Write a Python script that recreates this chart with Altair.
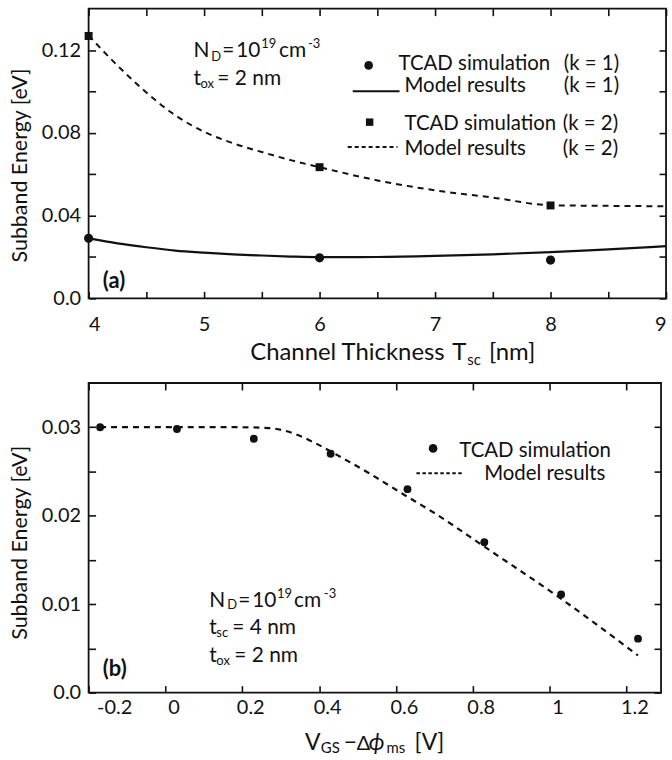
import altair as alt
import pandas as pd

# ---------------- data: panel (a) ----------------
T_TCAD = [4, 6, 8]
E1_TCAD = [0.0290, 0.0196, 0.0185]
E2_TCAD = [0.1268, 0.0634, 0.0449]
T_MODEL = [4.0, 4.25, 4.5, 4.75, 5.0, 5.25, 5.5, 5.75, 6.0, 6.5, 7.0, 7.5, 8.0, 8.5, 9.0]
E1_MODEL = [0.0290, 0.0266, 0.0247, 0.0231, 0.0221, 0.0213, 0.0207, 0.0202, 0.0199,
            0.0200, 0.0205, 0.0213, 0.0223, 0.0237, 0.0252]
E2_MODEL = [0.1270, 0.1125, 0.0995, 0.0885, 0.0805, 0.0750, 0.0707, 0.0668, 0.0634,
            0.0570, 0.0522, 0.0487, 0.0450, 0.0447, 0.0445]
XT_A = [4, 4.5, 5, 5.5, 6, 6.5, 7, 7.5, 8, 8.5, 9]
YT_A = [0, 0.02, 0.04, 0.06, 0.08, 0.10, 0.12]

# ---------------- data: panel (b) ----------------
V_TCAD = [-0.17, 0.03, 0.23, 0.43, 0.63, 0.83, 1.03, 1.23]
E_TCAD = [0.0300, 0.0298, 0.0287, 0.0270, 0.0230, 0.0170, 0.0111, 0.0061]
V_MODEL = [-0.17, 0.0, 0.19, 0.27, 0.34, 0.39, 0.445, 0.53, 0.62, 0.70, 0.83, 1.03, 1.23]
E_MODEL = [0.0300, 0.0300, 0.0300, 0.0299, 0.0292, 0.0282, 0.0269, 0.0248, 0.0224,
           0.0203, 0.0165, 0.0106, 0.0042]
XT_B = [-0.2, 0, 0.2, 0.4, 0.6, 0.8, 1.0, 1.2]
YT_B = [0, 0.005, 0.01, 0.015, 0.02, 0.025, 0.03]

dfA_tcad = pd.DataFrame({"T": T_TCAD, "E1": E1_TCAD, "E2": E2_TCAD})
dfA_model = pd.DataFrame({"T": T_MODEL, "E1": E1_MODEL, "E2": E2_MODEL})
dfB_tcad = pd.DataFrame({"V": V_TCAD, "E": E_TCAD})
dfB_model = pd.DataFrame({"V": V_MODEL, "E": E_MODEL})
ONE = pd.DataFrame({"k": [0]})

FONT = "Lato, 'Open Sans', 'DejaVu Sans', sans-serif"
INK = "#111111"

# page layout (plot-area origins)
OA = (90.7, 5.0)
WA, HA = 580, 291
OB = (90.7, 381.0)
WB, HB = 575, 311


def txt(s, px, py, origin, size=21, weight="normal", style="normal"):
    ox, oy = origin
    return alt.Chart(ONE).mark_text(
        text=s, align="left", baseline="alphabetic", font=FONT, fontSize=size,
        fontWeight=weight, fontStyle=style, color=INK
    ).encode(x=alt.value(px - ox), y=alt.value(py - oy))


def rule(x1, x2, py, origin, dash=None, width=2):
    ox, oy = origin
    kw = dict(color=INK, strokeWidth=width)
    if dash:
        kw["strokeDash"] = dash
    return alt.Chart(ONE).mark_rule(**kw).encode(
        x=alt.value(x1 - ox), x2=alt.value(x2 - ox), y=alt.value(py - oy))


def marker(kind, px, py, origin, size):
    ox, oy = origin
    m = alt.Chart(ONE)
    m = m.mark_circle(size=size, color=INK, opacity=1) if kind == "circle" else \
        m.mark_square(size=size, color=INK, opacity=1)
    return m.encode(x=alt.value(px - ox), y=alt.value(py - oy))


def ax(orient, values, show, expr=None, pad=8, title=None, flush=None, loff=None, ty=None):
    kw = dict(orient=orient, values=values, tickSize=7, offset=-7, domain=False,
              grid=False, tickColor=INK, tickWidth=1.6, labels=show, title=title)
    if show:
        kw.update(labelFont=FONT, labelFontSize=20, labelColor=INK, labelPadding=pad)
        if expr:
            kw["labelExpr"] = expr
        if flush is not None:
            kw["labelFlush"] = flush
        if loff is not None:
            kw["labelOffset"] = loff
    if title:
        kw.update(titleFont=FONT, titleFontSize=21.5, titleFontWeight="normal",
                  titleColor=INK, titlePadding=10)
        if ty is not None:
            kw["titleY"] = ty
    return alt.Axis(**kw)


# ================= panel (a) =================
xsA = alt.Scale(domain=[4, 9], nice=False, zero=False)
ysA = alt.Scale(domain=[0, 0.14], nice=False, zero=True)
exA_x = "datum.value % 1 == 0 ? format(datum.value, 'd') : ''"
exA_y = ("datum.value == 0 ? '0.0' : (abs(datum.value / 0.04 - round(datum.value / 0.04)) < 0.001"
         " ? format(datum.value, '.2f') : '')")

lineA2 = alt.Chart(dfA_model).mark_line(
    color=INK, strokeWidth=2, strokeDash=[6, 5], interpolate="monotone"
).encode(x=alt.X("T:Q", scale=xsA, axis=None), y=alt.Y("E2:Q", scale=ysA, axis=None))
lineA1 = alt.Chart(dfA_model).mark_line(
    color=INK, strokeWidth=2.2, interpolate="monotone"
).encode(x=alt.X("T:Q", scale=xsA, axis=None), y=alt.Y("E1:Q", scale=ysA, axis=None))
sqA = alt.Chart(dfA_tcad).mark_square(size=64, color=INK, opacity=1).encode(
    x=alt.X("T:Q", scale=xsA, axis=None), y=alt.Y("E2:Q", scale=ysA, axis=None))
ciA = alt.Chart(dfA_tcad).mark_circle(size=85, color=INK, opacity=1).encode(
    x=alt.X("T:Q", scale=xsA, axis=ax("bottom", XT_A, True, exA_x, pad=16, flush=True)),
    y=alt.Y("E1:Q", scale=ysA,
            axis=ax("left", YT_A, True, exA_y, pad=8, title="Subband Energy [eV]", ty=157)))
mirA = alt.Chart(dfA_tcad).mark_point(opacity=0).encode(
    x=alt.X("T:Q", scale=xsA, axis=ax("top", XT_A, False)),
    y=alt.Y("E1:Q", scale=ysA, axis=ax("right", YT_A, False)))

annA = [
    txt("N", 196, 54, OA), txt("D", 214, 57.5, OA, 13), txt("=", 225, 54, OA),
    txt("10", 239, 54, OA), txt("19", 264, 45, OA, 13), txt("cm", 282, 54, OA),
    txt("-3", 311, 45, OA, 13),
    txt("t", 196, 81.5, OA), txt("ox", 203, 85, OA, 13), txt("= 2 nm", 220, 81.5, OA),
    txt("(a)", 105, 286, OA, 22, weight="bold"),
    # legend
    marker("circle", 372, 62, OA, 75),
    txt("TCAD simulation", 402, 67, OA, 20.5), txt("(k = 1)", 568, 67, OA, 20.5),
    rule(356, 403, 88, OA, width=2),
    txt("Model results", 408, 89, OA, 20.5), txt("(k = 1)", 568, 89, OA, 20.5),
    marker("square", 373, 119, OA, 56),
    txt("TCAD simulation", 408, 126.5, OA, 20.5), txt("(k = 2)", 567, 126.5, OA, 20.5),
    rule(351, 401, 144, OA, dash=[4, 3], width=2),
    txt("Model results", 408, 152, OA, 20.5), txt("(k = 2)", 567, 152, OA, 20.5),
    # x-axis title
    txt("Channel Thickness", 253, 358, OA, 24), txt("T", 456, 358, OA, 24),
    txt("sc", 471, 363, OA, 15), txt("[nm]", 493, 358, OA, 24),
]

panelA = alt.layer(lineA2, lineA1, sqA, ciA, mirA, *annA).properties(width=WA, height=HA)

# ================= panel (b) =================
xsB = alt.Scale(domain=[-0.2, 1.29], nice=False, zero=False)
ysB = alt.Scale(domain=[0, 0.035], nice=False, zero=True)
exB_x = "datum.value < 0 ? '-' + format(-datum.value, '~g') : format(datum.value, '~g')"
exB_y = ("datum.value == 0 ? '0.0' : (abs(datum.value / 0.01 - round(datum.value / 0.01)) < 0.001"
         " ? format(datum.value, '.2f') : '')")

lineB = alt.Chart(dfB_model).mark_line(
    color=INK, strokeWidth=2.2, strokeDash=[6, 5], interpolate="monotone"
).encode(x=alt.X("V:Q", scale=xsB, axis=None), y=alt.Y("E:Q", scale=ysB, axis=None))
ciB = alt.Chart(dfB_tcad).mark_circle(size=62, color=INK, opacity=1).encode(
    x=alt.X("V:Q", scale=xsB, axis=ax("bottom", XT_B, True, exB_x, pad=5, loff=8)),
    y=alt.Y("E:Q", scale=ysB,
            axis=ax("left", YT_B, True, exB_y, pad=8, title="Subband Energy [eV]", ty=160)))
mirB = alt.Chart(dfB_tcad).mark_point(opacity=0).encode(
    x=alt.X("V:Q", scale=xsB, axis=ax("top", XT_B, False)),
    y=alt.Y("E:Q", scale=ysB, axis=ax("right", YT_B, False)))

annB = [
    txt("N", 212, 605.7, OB), txt("D", 230, 608.5, OB, 13), txt("=", 241, 605.7, OB),
    txt("10", 255, 605.7, OB), txt("19", 280, 597, OB, 13), txt("cm", 297, 605.7, OB),
    txt("-3", 327, 597, OB, 13),
    txt("t", 212, 633, OB), txt("sc", 219, 636, OB, 13), txt("= 4 nm", 235, 633, OB),
    txt("t", 212, 661.5, OB), txt("ox", 219, 664.5, OB, 13), txt("= 2 nm", 237, 661.5, OB),
    txt("(b)", 105, 675, OB, 22, weight="bold"),
    # legend
    marker("circle", 436.7, 446.7, OB, 75),
    txt("TCAD simulation", 463, 455, OB, 20.5),
    rule(420, 467, 471.7, OB, dash=[3.5, 2.5], width=2),
    txt("Model results", 488, 478, OB, 20.5),
    # x-axis title
    txt("V", 308, 750, OB, 23), txt("GS", 324, 753, OB, 15), txt("\u2212", 347, 750, OB, 23),
    txt("\u0394", 360, 750, OB, 20), txt("\u03d5", 372, 750, OB, 23, style="italic"),
    txt("ms", 390, 753, OB, 15), txt("[V]", 418, 750, OB, 23),
]

panelB = alt.layer(lineB, ciB, mirB, *annB).properties(width=WB, height=HB)

chart = alt.vconcat(panelA, panelB, spacing=85, bounds="flush").properties(
    padding={"left": 8, "top": 5, "right": 0, "bottom": 0}
).configure_view(stroke=INK, strokeWidth=1.8)

chart.save("out.html", embed_options={"renderer": "svg", "actions": False})
